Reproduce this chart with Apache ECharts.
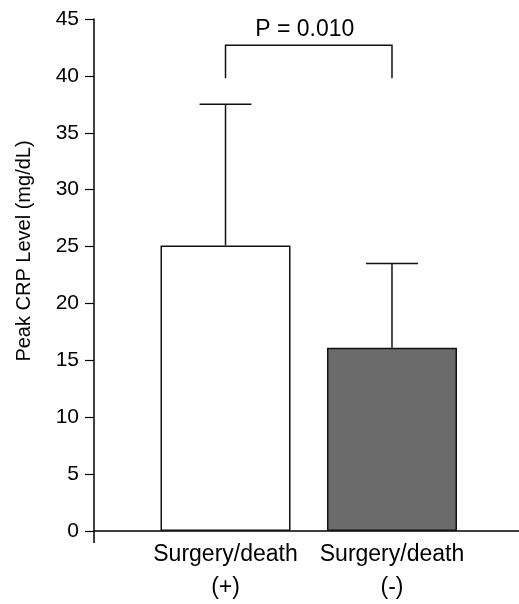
<!DOCTYPE html>
<html>

<head>
  <meta charset="utf-8">
  <title>Peak CRP Level</title>
  <script src="https://cdn.jsdelivr.net/npm/echarts@6/dist/echarts.min.js"></script>
  <style>
    html,
    body {
      margin: 0;
      padding: 0;
      background: #fff;
    }

    #main {
      width: 519px;
      height: 604px;
    }
  </style>
</head>

<body>
  <div id="main"></div>
  <script>
    // data
    var categories = ['Surgery/death\n(+)', 'Surgery/death\n(-)'];
    var means = [25.1, 16.1];
    var upper = [37.5, 23.5];
    var yTicks = [0, 5, 10, 15, 20, 25, 30, 35, 40, 45];
    var pText = 'P = 0.010';
    var bracket = [42.7, 39.8]; // top of bracket, end of legs

    var positions = categories.map(function (c, i) { return i + 1; });
    var barColors = ['#ffffff', '#6b6b6b'];

    var barData = means.map(function (v, i) {
      return {
        value: [positions[i], v],
        itemStyle: { color: barColors[i] }
      };
    });
    var errData = means.map(function (v, i) { return [positions[i], v, upper[i]]; });

    var mychart = echarts.init(document.getElementById('main'));

    var option = {
      animation: false,
      grid: { left: 94, right: 0, top: 19, bottom: 71 },
      xAxis: {
        type: 'value',
        min: 0.21,
        max: 2.763,
        splitLine: { show: false },
        axisTick: { show: false },
        axisLine: { show: true, onZero: false, lineStyle: { color: '#000', width: 1.5 } },
        axisLabel: {
          customValues: positions,
          formatter: function (v) { return categories[Math.round(v) - 1] || ''; },
          color: '#000',
          fontFamily: 'Liberation Sans, Arial',
          fontSize: 23,
          lineHeight: 33,
          margin: 7
        }
      },
      yAxis: {
        type: 'value',
        min: 0,
        max: 45,
        interval: 5,
        name: 'Peak CRP Level (mg/dL)',
        nameLocation: 'middle',
        nameGap: 60,
        nameTextStyle: {
          color: '#000',
          fontFamily: 'Liberation Sans, Arial',
          fontSize: 20,
          padding: [0, 0, 0, 48]
        },
        splitLine: { show: false },
        axisLine: { show: true, lineStyle: { color: '#000', width: 1.5 } },
        axisTick: { show: true, length: 9, lineStyle: { color: '#000', width: 1.2 } },
        axisLabel: {
          color: '#000',
          fontFamily: 'Liberation Sans, Arial',
          fontSize: 21,
          margin: 15,
          formatter: function (v) { return yTicks.indexOf(v) >= 0 ? String(v) : ''; }
        }
      },
      series: [
        {
          type: 'bar',
          barWidth: 130,
          data: barData,
          itemStyle: { borderColor: '#111', borderWidth: 1.5 },
          z: 2
        },
        {
          type: 'custom',
          data: errData,
          z: 3,
          renderItem: function (params, api) {
            var x = api.value(0);
            var lo = api.coord([x, api.value(1)]);
            var hi = api.coord([x, api.value(2)]);
            var hw = 26;
            return {
              type: 'group',
              children: [
                { type: 'line', shape: { x1: lo[0], y1: lo[1], x2: hi[0], y2: hi[1] }, style: { stroke: '#111', lineWidth: 1.5 } },
                { type: 'line', shape: { x1: hi[0] - hw, y1: hi[1], x2: hi[0] + hw, y2: hi[1] }, style: { stroke: '#111', lineWidth: 1.5 } }
              ]
            };
          }
        },
        {
          type: 'custom',
          data: [[positions[0], positions[1], bracket[0], bracket[1]]],
          z: 3,
          renderItem: function (params, api) {
            var a = api.coord([api.value(0), api.value(3)]);
            var b = api.coord([api.value(0), api.value(2)]);
            var c = api.coord([api.value(1), api.value(2)]);
            var d = api.coord([api.value(1), api.value(3)]);
            return {
              type: 'group',
              children: [
                { type: 'polyline', shape: { points: [a, b, c, d] }, style: { stroke: '#111', lineWidth: 1.5, fill: null } },
                {
                  type: 'text',
                  style: {
                    text: pText, x: (b[0] + c[0]) / 2 - 4, y: b[1] - 4,
                    align: 'center', verticalAlign: 'bottom',
                    fill: '#000', fontFamily: 'Liberation Sans, Arial', fontSize: 23
                  }
                }
              ]
            };
          }
        }
      ]
    };

    mychart.setOption(option);

    // y axis line runs a little below zero in the original
    var p0 = mychart.convertToPixel({ gridIndex: 0 }, [0.21, 0]);
    mychart.setOption({
      graphic: [{
        type: 'line',
        shape: { x1: p0[0], y1: p0[1], x2: p0[0], y2: p0[1] + 12 },
        style: { stroke: '#000', lineWidth: 1.5 }
      }]
    });
  </script>
</body>

</html>
